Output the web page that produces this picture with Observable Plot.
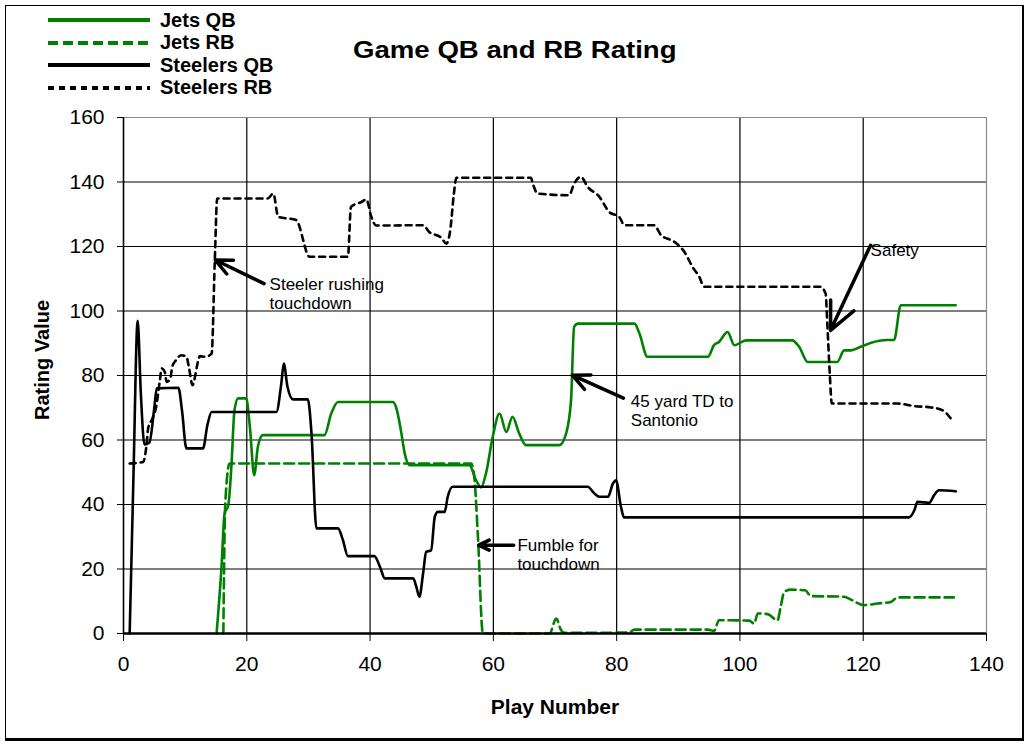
<!DOCTYPE html>
<html>
<head>
<meta charset="utf-8">
<script src="https://cdn.jsdelivr.net/npm/d3@7"></script>
<script src="https://cdn.jsdelivr.net/npm/@observablehq/plot@0.6"></script>
<style>
  html, body { margin: 0; padding: 0; background: #fff; }
  #wrap { position: relative; width: 1036px; height: 754px; font-family: "Liberation Sans", Arial, sans-serif; color: #000; }
  #wrap svg.plot { position: absolute; left: 0; top: 0; }
  .frame { position: absolute; left: 5px; top: 5px; width: 1016px; height: 732px; border-style: solid; border-color: #000; border-width: 1px 2px 3px 1px; }
  .title { position: absolute; left: 353px; top: 36px; font-weight: bold; font-size: 24px; white-space: nowrap; transform: scaleX(1.15); transform-origin: left top; }
  .ylab { position: absolute; left: 42px; top: 360px; font-weight: bold; font-size: 20px; white-space: nowrap; transform: translate(-50%, -50%) rotate(-90deg); }
  .xlab { position: absolute; left: 555px; top: 707px; font-weight: bold; font-size: 21px; white-space: nowrap; transform: translate(-50%, -50%); }
  .legend { position: absolute; left: 46px; top: 9px; }
  .legend .row { display: flex; align-items: center; height: 22.5px; }
  .legend .row span { font-weight: bold; font-size: 20px; margin-left: 8px; white-space: nowrap; }
</style>
</head>
<body>
<div id="wrap">
  <div class="frame"></div>
  <div class="title">Game QB and RB Rating</div>
  <div class="ylab">Rating Value</div>
  <div class="xlab">Play Number</div>
  <div class="legend" id="legend"></div>
</div>
<script>
// ---- Data ----
const xTicks = [0, 20, 40, 60, 80, 100, 120, 140];
const yTicks = [0, 20, 40, 60, 80, 100, 120, 140, 160];

const seriesNames = ["Jets QB", "Jets RB", "Steelers QB", "Steelers RB"];
const seriesColors = ["#008000", "#008000", "#000000", "#000000"];
const seriesDash = [null, "10,5", null, "6,5"];

const jetsQbX = [15.1,15.9,16.4,17.0,17.5,18.0,18.6,19.9,20.5,21.2,21.8,22.6,32.6,33.7,34.8,43.7,44.2,45.0,45.6,46.4,56.1,57.2,58.0,58.8,59.9,61.0,62.1,63.1,64.2,65.3,70.7,71.8,72.6,73.1,73.7,82.9,83.7,85.0,94.8,95.8,96.6,98.0,99.1,101.0,108.5,109.6,111.0,115.8,116.9,118.0,119.6,121.2,123.9,125.0,126.1,135.0];
const jetsQbY = [0,20.6,37.2,39.8,51.7,69.2,72.9,72.9,64.1,49.1,57.9,61.5,61.5,68.2,71.8,71.8,70.3,63.0,56.0,52.2,52.2,47.5,45.3,49.6,61.0,68.2,62.5,67.2,62.0,58.4,58.4,62.0,72.3,95.1,96.1,96.1,93.0,85.8,85.8,89.4,90.4,93.5,89.4,90.9,90.9,88.9,84.2,84.2,87.8,87.8,88.9,90.1,91.0,91.0,101.8,101.8];

const jetsRbX = [16.2,16.5,17.2,56.4,56.9,57.5,58.3,69.1,70.2,71.0,71.5,82.0,82.9,94.8,95.8,96.6,101.5,102.3,102.9,104.5,106.1,106.6,107.2,108.3,110.6,111.5,116.9,118.0,120.1,122.3,124.5,125.6,134.7];
const jetsRbY = [0,40,52.7,52.7,48.6,30,0,0,4.6,1,0.2,0.3,1.2,1.2,0.8,4.1,4.0,3.1,6.2,6.0,4.1,8.2,12.9,13.6,13.4,11.6,11.4,10.5,8.8,9.3,9.8,11.2,11.2];

const steelQbX = [1.0,1.6,2.3,2.8,3.4,4.2,5.0,5.4,8.9,9.5,10.2,12.9,13.6,14.3,24.8,25.6,26.0,26.6,27.5,29.9,30.5,31.3,34.8,35.6,36.4,40.7,41.6,42.4,47.0,47.5,48.0,48.6,49.1,49.9,50.5,51.0,52.1,52.6,53.4,75.3,76.4,77.2,78.6,79.4,79.9,80.7,81.2,127.4,128.3,128.8,130.7,131.5,132.3,135.0];
const steelQbY = [0,47.5,97,75,58.6,59.2,70,76,76.2,69,57.4,57.4,64.5,68.7,68.7,77.5,83.7,76.5,72.6,72.6,62,32.6,32.6,28.9,24.0,24.0,20.7,17.1,17.1,14.5,11.4,18.6,25.3,25.8,36.2,37.7,37.7,42.4,45.5,45.5,43.4,42.4,42.4,46.5,47.5,39.3,36.0,36.0,38.2,40.8,40.5,42.9,44.4,44.1];

const steelRbX = [1.0,3.2,3.7,4.0,4.7,5.3,5.9,6.2,6.7,7.0,7.6,7.9,8.5,9.4,10.2,10.6,11.2,11.6,11.9,12.4,13.3,14.3,14.8,15.2,23.4,24.3,25.1,28.0,30.2,36.4,36.9,38.6,39.4,40.2,41.0,48.6,49.6,51.5,52.4,53.0,53.6,54.0,66.1,66.4,67.2,72.3,73.1,74.2,75.3,77.2,78.8,80.4,81.3,86.1,87.2,89.4,91.0,92.3,93.4,94.2,113.1,113.9,114.2,114.6,114.9,125.6,128.3,131.0,132.9,134.2];
const steelRbY = [52.7,53.2,57.9,63.6,66.7,70.3,78.5,82.2,81.1,78.0,79.1,82.7,84.7,86.3,85.8,82.7,77.0,79.6,82.7,86.0,85.8,86.8,115,134.9,134.9,136.4,129.2,128.2,116.8,116.8,132.3,133.8,134.6,129.2,126.5,126.6,124.5,122.8,120.9,125,136.4,141.3,141.3,139.5,136.4,135.9,139.5,141.6,138.5,135.4,130.7,129.2,126.6,126.6,123.5,121.4,118.3,113.7,110.6,107.5,107.5,105.4,95.1,79.6,71.3,71.3,70.5,70.1,69.2,66.7];

// Annotations (data units)
const noteText = ["Steeler rushing\ntouchdown", "45 yard TD to\nSantonio", "Fumble for\ntouchdown", "Safety"];
const noteX = [23.7, 82.3, 63.9, 121.2];
const noteY = [105.5, 69.2, 24.6, 119.1];
const arrowX1 = [22.8, 81.1, 63.3, 121.2];
const arrowY1 = [108.5, 73.0, 27.4, 120.4];
const arrowX2 = [14.9, 72.8, 57.6, 114.7];
const arrowY2 = [115.8, 80.1, 27.4, 94.0];

// ---- Build tables ----
const toRows = (xs, ys) => xs.map((x, i) => ({x, y: ys[i]}));
const series = [
  toRows(jetsQbX, jetsQbY),
  toRows(jetsRbX, jetsRbY),
  toRows(steelQbX, steelQbY),
  toRows(steelRbX, steelRbY)
];
const notes = noteText.map((t, i) => ({t, x: noteX[i], y: noteY[i]}));
const arrows = arrowX1.map((x1, i) => ({x1, y1: arrowY1[i], x2: arrowX2[i], y2: arrowY2[i]}));

const lineMarks = [1, 0, 3, 2].map(i => Plot.line(series[i], {
  x: "x", y: "y", stroke: seriesColors[i], strokeWidth: 2.6,
  strokeDasharray: seriesDash[i] || undefined, curve: "monotone-x"
}));

const chart = Plot.plot({
  width: 1036, height: 754,
  marginLeft: 123, marginRight: 50, marginTop: 117, marginBottom: 121,
  x: {domain: [0, 140], ticks: xTicks, label: null},
  y: {domain: [0, 160], ticks: yTicks, label: null},
  style: {fontFamily: "'Liberation Sans', Arial, sans-serif", fontSize: "21px", background: "transparent", color: "#000", overflow: "visible"},
  marks: [
    Plot.ruleY(yTicks.filter(d => d > 0 && d < 160), {stroke: "#000", strokeWidth: 1.2}),
    Plot.ruleX(xTicks.filter(d => d > 0 && d < 140), {stroke: "#000", strokeWidth: 1.2}),
    Plot.ruleY([160], {stroke: "#8a8a8a", strokeWidth: 1.2}),
    Plot.ruleX([140], {stroke: "#8a8a8a", strokeWidth: 1.2}),
    ...lineMarks,
    Plot.ruleY([0], {stroke: "#000", strokeWidth: 2.6}),
    Plot.ruleX([0], {stroke: "#000", strokeWidth: 1.6}),
    Plot.axisX({ticks: xTicks, tickSize: 8, tickPadding: 15, fontSize: 21, label: null, stroke: "#000"}),
    Plot.axisY({ticks: yTicks, tickSize: 6, tickPadding: 13, fontSize: 21, label: null, stroke: "#000"}),
    Plot.arrow(arrows, {x1: "x1", y1: "y1", x2: "x2", y2: "y2", stroke: "#000", strokeWidth: 3.5, headLength: 13, headAngle: 50}),
    Plot.text(notes, {x: "x", y: "y", text: "t", textAnchor: "start", lineAnchor: "middle", fontSize: 17, lineHeight: 1.13, fill: "#000"})
  ]
});
chart.classList.add("plot");
document.getElementById("wrap").prepend(chart);

// ---- Legend ----
const legend = document.getElementById("legend");
seriesNames.forEach((name, i) => {
  const row = document.createElement("div");
  row.className = "row";
  const dash = seriesDash[i] ? ` stroke-dasharray="${seriesDash[i]}"` : "";
  row.innerHTML = `<svg width="106" height="10"><line x1="2" y1="5" x2="104" y2="5" stroke="${seriesColors[i]}" stroke-width="4"${dash}/></svg><span>${name}</span>`;
  legend.appendChild(row);
});
</script>
</body>
</html>
